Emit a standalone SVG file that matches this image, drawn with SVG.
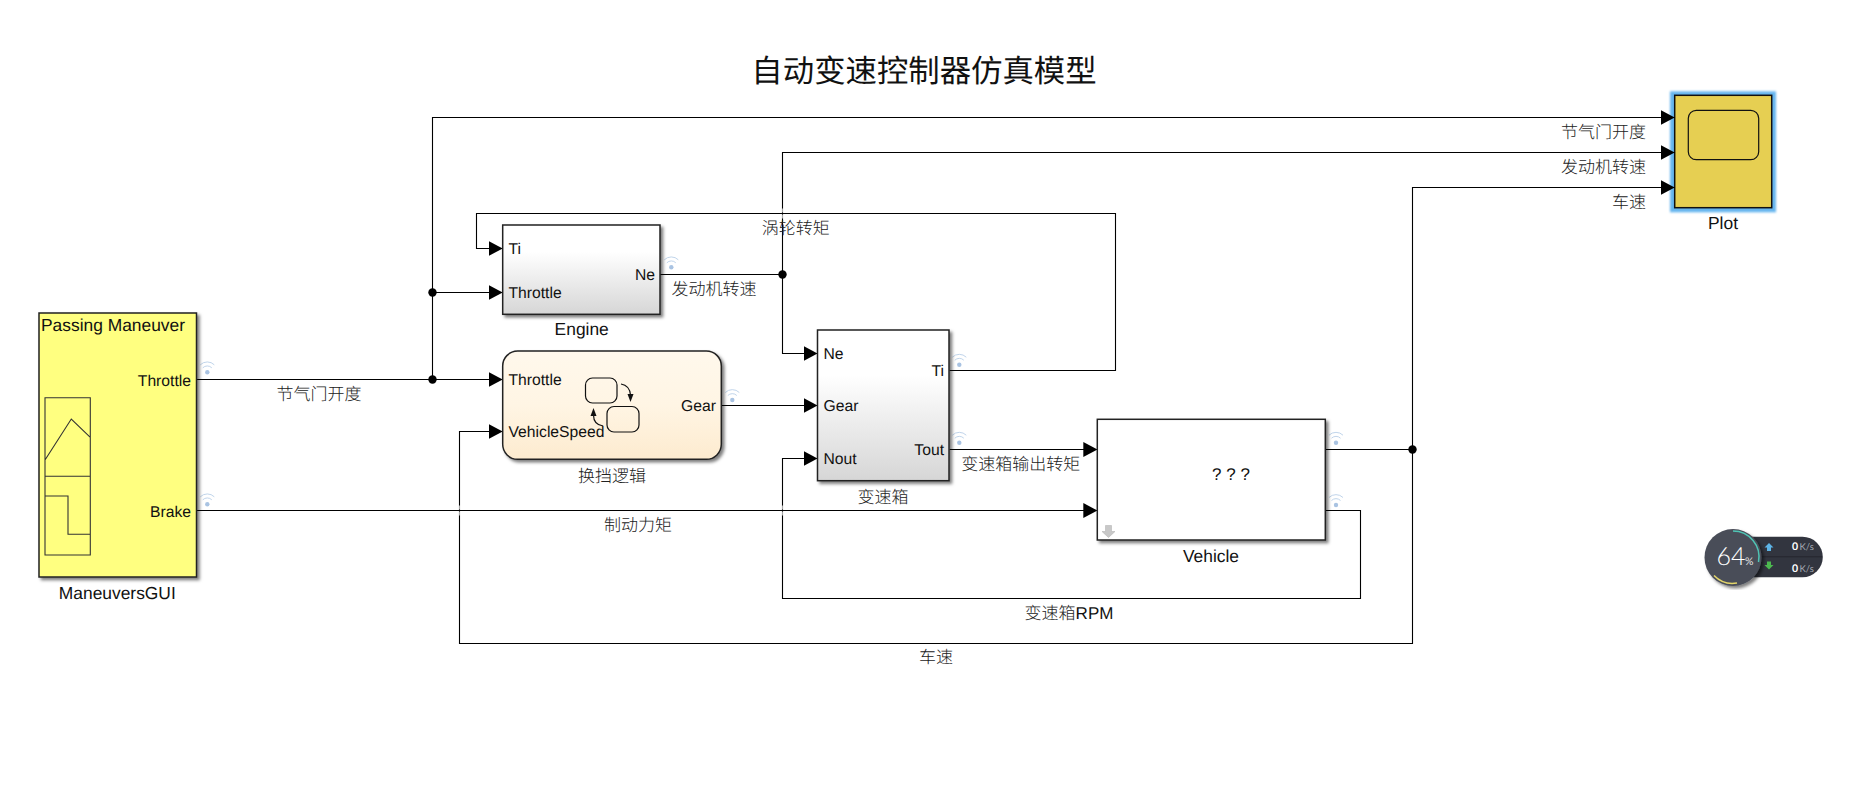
<svg xmlns="http://www.w3.org/2000/svg" width="1853" height="789" viewBox="0 0 1853 789">
<style>
text{font-family:"Liberation Sans",Arial,"Noto Sans CJK SC",sans-serif;fill:#111;text-rendering:geometricPrecision}
.p{font-size:15.7px}
.n{font-size:17.4px}
.c{font-family:"Noto Sans CJK SC",sans-serif;font-size:17px;font-weight:300;fill:#222;text-anchor:middle}
.m{text-anchor:middle}
.e{text-anchor:end}
.b{stroke:#222;stroke-width:1.5}
.l{fill:none;stroke:#000;stroke-width:1.1}
.a{fill:none;stroke:#000;stroke-width:1.1;marker-end:url(#arr)}
.i{fill:none;stroke:#333;stroke-width:1.1}
.s{fill:none;stroke:#111;stroke-width:1.2}
.g{fill:#fff;opacity:.65}
.t{font-family:Lato,sans-serif}
</style>
<defs>
<marker id="arr" markerUnits="userSpaceOnUse" markerWidth="14" markerHeight="15" refX="14" refY="7.500" orient="auto"><path d="M0 0L14 7.500L0 15Z" fill="#000"/></marker>
<linearGradient id="gray" x1="0" y1="0" x2="0" y2="1"><stop offset="0.3" stop-color="#fff"/><stop offset="1" stop-color="#d6d6d6"/></linearGradient>
<linearGradient id="cream" x1="0" y1="0" x2="0" y2="1"><stop offset="0" stop-color="#fff8ec"/><stop offset="0.5" stop-color="#fff5e4"/><stop offset="1" stop-color="#fdebcf"/></linearGradient>
<filter id="sh" x="-5%" y="-5%" width="112%" height="112%"><feDropShadow dx="2.500" dy="2.500" stdDeviation="1.500" flood-color="#000" flood-opacity="0.5"/></filter>
<filter id="glow" x="-10%" y="-10%" width="120%" height="120%"><feGaussianBlur stdDeviation="0.8"/></filter>
<g id="wifi"><circle cx="0" cy="0" r="2.200" fill="#a9c3e2"/><path d="M-4.500 -4.500A6.400 6.400 0 0 1 4.500 -4.500M-7 -7.500A10 10 0 0 1 7 -7.500" fill="none" stroke="#b9cfe8" stroke-width="0.9"/></g>
</defs>
<rect width="1853" height="789" fill="#fff"/>
<text id="title" x="924" y="82" style="font-family:'Noto Sans CJK SC',sans-serif;font-size:31.400px;text-anchor:middle">自动变速控制器仿真模型</text>

<g id="Plot">
<rect x="1670" y="91.300" width="106" height="121" fill="#66b5ee" filter="url(#glow)"/>
<rect class="b" x="1674.700" y="95.300" width="97" height="112.400" fill="#e6cf52" style="stroke:#111"/>
<rect x="1688.300" y="110.300" width="70.400" height="49.400" rx="8" fill="#e6cf52" stroke="#111" stroke-width="1.200"/>
<text class="n m" x="1723" y="228.500">Plot</text>
</g>

<g id="connectors">
<path class="l" d="M197 379.500H432.500"/>
<path class="a" d="M432.500 379.500H502.700"/>
<path class="a" d="M432.500 379.500V117.500H1674.700"/>
<path class="a" d="M432.500 292.500H502.700"/>
<path class="a" d="M949.500 370.500H1115.500V213.500H476.500V248.500H502.700"/>
<path class="l" d="M660 274.500H782.500"/>
<path class="a" d="M782.500 274.500V152.500H1674.700"/>
<path class="a" d="M782.500 274.500V353.500H817.500"/>
<path class="a" d="M721.500 405.500H817.500"/>
<path class="a" d="M949.500 449.500H1097.300"/>
<path class="a" d="M197 510.500H1097.300"/>
<path class="a" d="M1326 510.500H1360.500V598.500H782.500V458.500H817.500"/>
<path class="l" d="M1326 449.500H1412.500"/>
<path class="a" d="M1412.500 449.500V187.500H1674.700"/>
<path class="a" d="M1412.500 449.500V643.500H459.500V431.500H502.700"/>
<path class="g" d="M458.500 505.500h2v4h-2zM458.500 511.500h2v4h-2zM781.500 505.500h2v4h-2zM781.500 511.500h2v4h-2zM781.500 208.500h2v4h-2zM781.500 214.500h2v4h-2z"/>
<circle cx="432.500" cy="292.500" r="4.200" fill="#000"/>
<circle cx="432.500" cy="379.500" r="4.200" fill="#000"/>
<circle cx="782.500" cy="274.500" r="4.200" fill="#000"/>
<circle cx="1412.500" cy="449.500" r="4.200" fill="#000"/>
<use href="#wifi" x="207.300" y="372.300"/>
<use href="#wifi" x="207.300" y="504.300"/>
<use href="#wifi" x="671.300" y="267.300"/>
<use href="#wifi" x="732.300" y="400"/>
<use href="#wifi" x="959.300" y="364.700"/>
<use href="#wifi" x="959.300" y="442.700"/>
<use href="#wifi" x="1336" y="442.700"/>
<use href="#wifi" x="1336" y="505"/>
<text class="c" x="319" y="399.500">节气门开度</text>
<text class="c" x="714" y="294.500">发动机转速</text>
<text class="c" x="795.700" y="233.500">涡轮转矩</text>
<text class="c" x="1020.700" y="469.500">变速箱输出转矩</text>
<text class="c" x="638" y="530.500">制动力矩</text>
<text class="c" x="1069" y="618.500">变速箱<tspan style="font-family:'Liberation Sans',sans-serif;font-weight:400;fill:#111">RPM</tspan></text>
<text class="c" x="936" y="662.500">车速</text>
<text class="c" x="1646" y="137.500" style="text-anchor:end">节气门开度</text>
<text class="c" x="1646" y="172.500" style="text-anchor:end">发动机转速</text>
<text class="c" x="1646" y="207.500" style="text-anchor:end">车速</text>
</g>

<g id="ManeuversGUI">
<rect class="b" x="39" y="313" width="157.500" height="264" fill="#ffff80" filter="url(#sh)"/>
<text class="n" x="41" y="331">Passing Maneuver</text>
<text class="p e" x="191" y="385.500">Throttle</text>
<text class="p e" x="191" y="516.500">Brake</text>
<path class="i" d="M45 397.700H90.300V555H45ZM45 476.300H90.300M45 460L71.300 419L90.300 437.300M45 496H68V534.300H90.300"/>
<text class="n m" x="117.300" y="598.500">ManeuversGUI</text>
</g>

<g id="Engine">
<rect class="b" x="502.700" y="225" width="157.300" height="89.300" fill="url(#gray)" filter="url(#sh)"/>
<text class="p" x="508.500" y="253.500">Ti</text>
<text class="p" x="508.500" y="297.500">Throttle</text>
<text class="p e" x="655" y="279.500">Ne</text>
<text class="n m" x="581.700" y="334.500">Engine</text>
</g>

<g id="ShiftLogic">
<rect class="b" x="502.700" y="351" width="218.600" height="108.300" rx="15" fill="url(#cream)" filter="url(#sh)"/>
<text class="p" x="508.500" y="384.500">Throttle</text>
<text class="p" x="508.500" y="437">VehicleSpeed</text>
<text class="p e" x="716" y="411">Gear</text>
<rect class="s" x="585.500" y="378" width="31.500" height="25" rx="7"/>
<rect class="s" x="607" y="406.500" width="32" height="25.500" rx="7"/>
<path class="s" d="M621 384C627 385 630 389 630.500 395"/>
<path d="M627.500 394H633.500L630.500 402Z" fill="#111"/>
<path class="s" d="M603 426C596 425 593.500 420 593.500 415"/>
<path d="M590.500 416H596.500L593.500 408Z" fill="#111"/>
<text class="c" x="612" y="481.500">换挡逻辑</text>
</g>

<g id="Transmission">
<rect class="b" x="817.500" y="330" width="131.500" height="150.700" fill="url(#gray)" filter="url(#sh)"/>
<text class="p" x="823.500" y="358.500">Ne</text>
<text class="p" x="823.500" y="411">Gear</text>
<text class="p" x="823.500" y="463.500">Nout</text>
<text class="p e" x="944" y="376">Ti</text>
<text class="p e" x="944" y="454.500">Tout</text>
<text class="c" x="883" y="502.500">变速箱</text>
</g>

<g id="Vehicle">
<rect class="b" x="1097.300" y="419.300" width="228" height="120.700" fill="#fff" filter="url(#sh)"/>
<text class="m" x="1231" y="480" style="font-size:17px">? ? ?</text>
<path d="M1105.500 525.500H1111.500V531.500H1115L1108.500 537.500L1102 531.500H1105.500Z" fill="#c8c8c8" stroke="#b5b5b5" stroke-width="0.6"/>
<text class="n m" x="1211" y="561.500">Vehicle</text>
</g>

<g id="NetMonitor">
<path d="M1732 536.700H1802.500A20.300 20.300 0 0 1 1802.500 577.300H1732Z" fill="#32353f"/>
<path d="M1760 556.800H1822" stroke="#24262e" stroke-width="1"/>
<circle cx="1733" cy="557.500" r="28.500" fill="#4a4e59" filter="url(#sh)"/>
<path d="M1733 531A26 26 0 0 1 1758.500 562" fill="none" stroke="#4fc4b4" stroke-width="1.500"/>
<path d="M1714 575.500A26 26 0 0 0 1737 583" fill="none" stroke="#e3d56a" stroke-width="1.500"/>
<text class="t" x="1716.500" y="565" style="font-weight:300;font-size:25px;fill:#fff">64</text>
<text class="t" x="1745" y="565" style="font-size:10.500px;fill:#e8e8e8">%</text>
<path d="M1769 543L1773.500 547.500H1771V551H1767V547.500H1764.500Z" fill="#5db4e6"/>
<path d="M1769 569.500L1773.500 565H1771V561.500H1767V565H1764.500Z" fill="#4cb84f"/>
<text class="t" x="1792" y="550" style="font-weight:700;font-size:10.500px;fill:#fff">0</text>
<text class="t" x="1799.500" y="550" style="font-size:9.500px;fill:#a5a9b3">K/s</text>
<text class="t" x="1792" y="571.700" style="font-weight:700;font-size:10.500px;fill:#fff">0</text>
<text class="t" x="1799.500" y="571.700" style="font-size:9.500px;fill:#a5a9b3">K/s</text>
</g>
</svg>
